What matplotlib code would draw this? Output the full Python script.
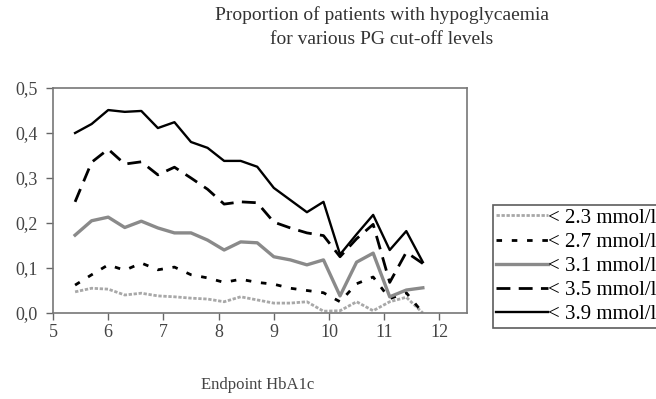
import matplotlib
matplotlib.use("Agg")
import matplotlib.pyplot as plt

plt.rcParams['font.family'] = ['Liberation Serif', 'DejaVu Serif']

hba1c = [5.4, 5.7, 6.0, 6.3, 6.6, 6.9, 7.2, 7.5, 7.8, 8.1, 8.4, 8.7, 9.0, 9.3,
         9.6, 9.9, 10.2, 10.5, 10.8, 11.1, 11.4, 11.7]

pg_23 = [0.047, 0.055, 0.053, 0.040, 0.044, 0.038, 0.036, 0.033, 0.031, 0.025, 0.036,
         0.029, 0.022, 0.022, 0.025, 0.004, 0.005, 0.025, 0.005, 0.025, 0.035, 0.0]
pg_27 = [0.062, 0.085, 0.107, 0.095, 0.111, 0.096, 0.102, 0.085, 0.078, 0.068, 0.075,
         0.068, 0.064, 0.055, 0.050, 0.045, 0.025, 0.065, 0.080, 0.032, 0.045, 0.0]
pg_31 = [0.173, 0.205, 0.213, 0.190, 0.204, 0.189, 0.178, 0.178, 0.162, 0.140, 0.158,
         0.156, 0.125, 0.118, 0.107, 0.118, 0.038, 0.113, 0.133, 0.036, 0.051, 0.056]
pg_35 = [0.247, 0.335, 0.364, 0.331, 0.336, 0.307, 0.324, 0.300, 0.275, 0.242, 0.247,
         0.245, 0.202, 0.189, 0.178, 0.172, 0.125, 0.165, 0.197, 0.068, 0.135, 0.110]
pg_39 = [0.400, 0.420, 0.451, 0.447, 0.449, 0.411, 0.424, 0.380, 0.367, 0.338, 0.338,
         0.325, 0.278, 0.251, 0.224, 0.247, 0.130, 0.175, 0.218, 0.140, 0.182, 0.113]

labels = ['< 2.3 mmol/l', '< 2.7 mmol/l', '< 3.1 mmol/l', '< 3.5 mmol/l', '< 3.9 mmol/l']
x_ticks = [5, 6, 7, 8, 9, 10, 11, 12]
y_ticks = [0.0, 0.1, 0.2, 0.3, 0.4, 0.5]
y_tick_labels = ['0,0', '0,1', '0,2', '0,3', '0,4', '0,5']

fig = plt.figure(figsize=(6.56, 3.99), dpi=100)
ax = fig.add_axes([53/656, 1-313/399, (467-53)/656, (313-88)/399])

ax.plot(hba1c, pg_23, color='#a8a8a8', lw=2.0, ls=(0, (1.2, 0.6)), label=labels[0])
ax.plot(hba1c, pg_27, color='black', lw=2.0, ls=(0, (2, 3.5)), label=labels[1])
ax.plot(hba1c, pg_31, color='#8a8a8a', lw=2.4, ls='-', label=labels[2])
ax.plot(hba1c, pg_35, color='black', lw=2.0, ls=(0, (5, 3)), label=labels[3])
ax.plot(hba1c, pg_39, color='black', lw=1.7, ls='-', label=labels[4])

ax.set_xlim(5, 12.5)
ax.set_ylim(0, 0.5)
ax.set_xticks(x_ticks)
ax.set_xticklabels([str(v) for v in x_ticks])
ax.set_yticks(y_ticks)
ax.set_yticklabels(y_tick_labels)
ax.tick_params(axis='both', direction='out', length=5, width=1, color='#666666',
               labelsize=13, labelcolor='#444444')
ax.tick_params(axis='x', pad=3)
ax.tick_params(axis='y', pad=6)
for s in ax.spines.values():
    s.set_color('#777777')
    s.set_linewidth(1.2)

fig.text(258/656, 1-385/399, 'Endpoint HbA1c', ha='center', va='center',
         fontsize=12, color='#444444')

fig.text(382/656, 1-15/399, 'Proportion of patients with hypoglycaemia',
         ha='center', va='center', fontsize=14, color='#333333')
fig.text(382/656, 1-39/399, 'for various PG cut-off levels',
         ha='center', va='center', fontsize=14, color='#333333')

leg = fig.legend(loc='upper left', bbox_to_anchor=(493/656, 1-205/399),
                 frameon=True, fancybox=False, fontsize=15, handlelength=2.5,
                 handletextpad=0.0, borderpad=0.15, labelspacing=0.22,
                 borderaxespad=0)
leg.get_frame().set_edgecolor('#333333')
leg.get_frame().set_linewidth(1.2)

fig.savefig('out.png', dpi=100)
